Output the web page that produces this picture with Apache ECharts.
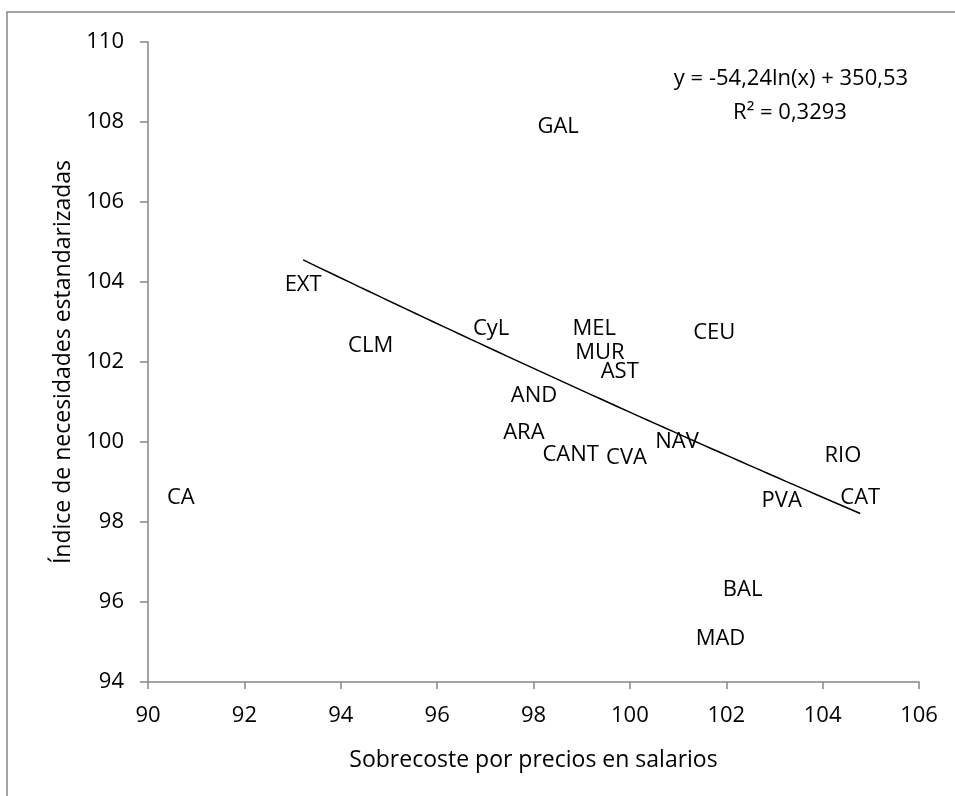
<!DOCTYPE html>
<html>
<head>
<meta charset="utf-8">
<script src="https://cdn.jsdelivr.net/npm/echarts@6/dist/echarts.min.js"></script>
<style>
html,body{margin:0;padding:0;background:#fff;}
#chart{width:955px;height:796px;}
</style>
</head>
<body>
<div id="chart"></div>
<script>
// Regions (labels) and their coordinates
const regions = ['EXT','CLM','CyL','GAL','MEL','MUR','AST','AND','ARA','CANT','CVA','NAV','CEU','RIO','PVA','CAT','BAL','MAD'];
const sobrecoste = [93.22, 94.62, 97.12, 98.51, 99.26, 99.38, 99.79, 98.01, 97.80, 98.77, 99.93, 100.98, 101.75, 104.42, 103.15, 104.78, 102.34, 101.88];
const indice = [103.94, 102.40, 102.84, 107.88, 102.83, 102.22, 101.76, 101.16, 100.22, 99.68, 99.60, 100.01, 102.72, 99.65, 98.53, 98.61, 96.31, 95.09];

// Separate point (not included in trendline range)
const extraRegions = ['CA'];
const extraX = [90.68];
const extraY = [98.60];

// Logarithmic trendline shown in the chart: y = a*ln(x) + b
const trendA = -54.24;
const trendB = 350.53;
const trendR2 = '0,3293';

const xTicks = {min: 90, max: 106, interval: 2};
const yTicks = {min: 94, max: 110, interval: 2};

const FONT = 'Open Sans';

const pts = regions.map((r, i) => ({name: r, value: [sobrecoste[i], indice[i]]}));
const extraPts = extraRegions.map((r, i) => ({name: r, value: [extraX[i], extraY[i]]}));

const xmin = Math.min(...sobrecoste), xmax = Math.max(...sobrecoste);
const trend = [];
const N = 60;
for (let i = 0; i <= N; i++) {
  const x = xmin + (xmax - xmin) * i / N;
  trend.push([x, trendA * Math.log(x) + trendB]);
}

const labelStyle = {
  show: true, position: 'inside', formatter: p => p.name,
  fontFamily: FONT, fontSize: 22, color: '#000', opacity: 1
};

const chart = echarts.init(document.getElementById('chart'), null, {renderer: 'canvas'});
chart.setOption({
  animation: false,
  backgroundColor: '#fff',
  grid: {left: 148, right: 36, top: 42, bottom: 114, containLabel: false},
  xAxis: {
    type: 'value', min: xTicks.min, max: xTicks.max, interval: xTicks.interval,
    name: 'Sobrecoste por precios en salarios', nameLocation: 'middle', nameGap: 67,
    nameTextStyle: {fontFamily: FONT, fontSize: 23, color: '#000'},
    axisLine: {show: true, lineStyle: {color: '#868686', width: 1.5}},
    axisTick: {show: true, inside: false, length: 7, lineStyle: {color: '#868686', width: 1.5}},
    axisLabel: {fontFamily: FONT, fontSize: 22, color: '#000', margin: 23},
    splitLine: {show: false}
  },
  yAxis: {
    type: 'value', min: yTicks.min, max: yTicks.max, interval: yTicks.interval,
    name: 'Índice de necesidades estandarizadas', nameLocation: 'middle', nameGap: 72,
    nameTextStyle: {fontFamily: FONT, fontSize: 23, color: '#000'},
    axisLine: {show: true, lineStyle: {color: '#868686', width: 1.5}},
    axisTick: {show: true, inside: false, length: 8, lineStyle: {color: '#868686', width: 1.5}},
    axisLabel: {fontFamily: FONT, fontSize: 22, color: '#000', margin: 24},
    splitLine: {show: false}
  },
  graphic: [
    {type: 'rect', silent: true, shape: {x: 7, y: 12, width: 2000, height: 2000},
     style: {fill: 'none', stroke: '#868686', lineWidth: 1.5}, z: -10},
    {type: 'text', x: 791, y: 79,
     style: {text: 'y = -54,24ln(x) + 350,53', font: '22px "Open Sans"', fill: '#000', align: 'center', verticalAlign: 'middle'}},
    {type: 'text', x: 790, y: 113,
     style: {text: 'R² = ' + trendR2, font: '22px "Open Sans"', fill: '#000', align: 'center', verticalAlign: 'middle'}}
  ],
  series: [
    {type: 'line', data: trend, showSymbol: false, symbol: 'none', smooth: false,
     lineStyle: {color: '#000', width: 1.5}, z: 1, silent: true},
    {type: 'scatter', data: pts, symbolSize: 0, itemStyle: {opacity: 1, color: '#000'}, label: labelStyle, z: 3},
    {type: 'scatter', data: extraPts, symbolSize: 0, itemStyle: {opacity: 1, color: '#000'}, label: labelStyle, z: 3}
  ]
});
</script>
</body>
</html>
